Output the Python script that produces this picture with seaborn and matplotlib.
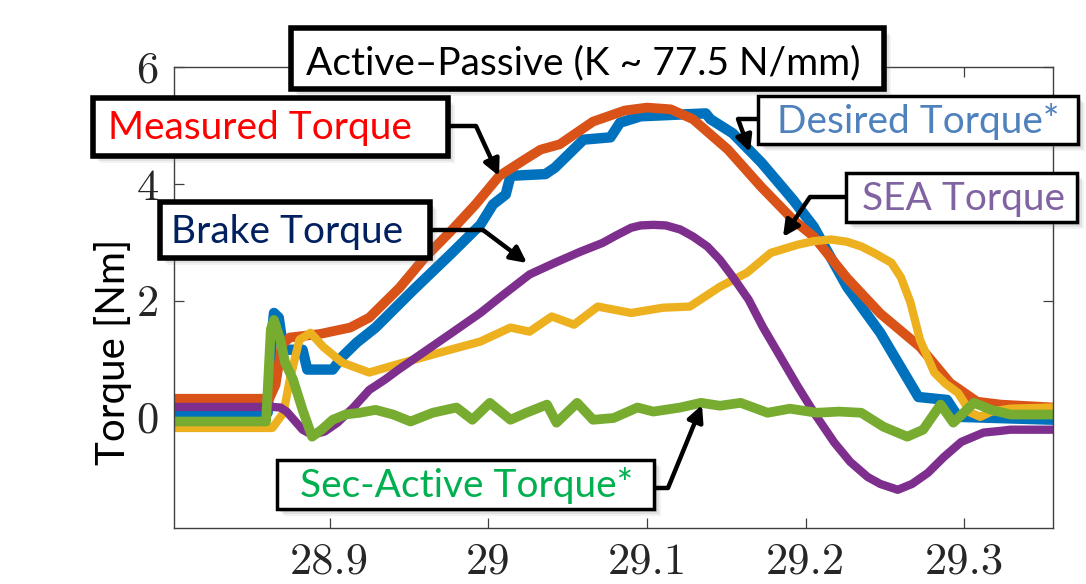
import matplotlib
matplotlib.use("Agg")
import matplotlib.pyplot as plt
import seaborn as sns
from matplotlib.patches import Rectangle, FancyArrowPatch
from matplotlib.lines import Line2D
from matplotlib.transforms import IdentityTransform

# ---------------- data ----------------
t_desired = [28.802, 28.861, 28.864, 28.865, 28.868, 28.871, 28.883, 28.886, 28.902, 28.908,
             28.917, 28.929, 28.953, 28.976, 28.995, 29.003, 29.011, 29.014, 29.036, 29.042,
             29.060, 29.077, 29.083, 29.096, 29.137, 29.140, 29.154, 29.172, 29.192, 29.205,
             29.226, 29.247, 29.271, 29.289, 29.296, 29.356]
desired = [0.08, 0.08, 1.51, 1.79, 1.71, 1.16, 1.16, 0.82, 0.82, 1.04,
           1.28, 1.54, 2.19, 2.79, 3.30, 3.65, 3.82, 4.14, 4.17, 4.28,
           4.76, 4.80, 5.05, 5.16, 5.21, 5.11, 4.87, 4.37, 3.73, 3.27,
           2.24, 1.45, 0.35, 0.30, 0.01, -0.04]

t_measured = [28.802, 28.862, 28.866, 28.870, 28.875, 28.894, 28.913, 28.925, 28.944, 28.960,
              28.976, 28.992, 29.007, 29.023, 29.033, 29.045, 29.066, 29.086, 29.100, 29.115,
              29.129, 29.151, 29.172, 29.192, 29.205, 29.226, 29.247, 29.272, 29.291, 29.308,
              29.323, 29.356]
measured = [0.32, 0.32, 0.56, 1.25, 1.37, 1.43, 1.54, 1.71, 2.22, 2.74,
            3.18, 3.65, 4.14, 4.42, 4.59, 4.68, 5.07, 5.26, 5.31, 5.28,
            5.11, 4.59, 3.95, 3.39, 3.10, 2.39, 1.78, 1.21, 0.59, 0.27,
            0.22, 0.17]

t_sea = [28.802, 28.864, 28.871, 28.875, 28.881, 28.888, 28.896, 28.908, 28.925, 28.944,
         28.960, 28.976, 28.995, 29.014, 29.026, 29.040, 29.054, 29.069, 29.090, 29.110,
         29.127, 29.146, 29.163, 29.178, 29.195, 29.205, 29.216, 29.226, 29.235, 29.243,
         29.254, 29.260, 29.266, 29.272, 29.281, 29.288, 29.296, 29.304, 29.310, 29.317,
         29.329, 29.356]
sea = [-0.18, -0.18, 0.08, 0.65, 1.33, 1.45, 1.21, 0.94, 0.77, 0.92,
       1.04, 1.16, 1.30, 1.54, 1.47, 1.73, 1.59, 1.90, 1.79, 1.88,
       1.90, 2.24, 2.48, 2.82, 2.96, 3.02, 3.05, 3.01, 2.93, 2.82,
       2.65, 2.40, 1.97, 1.33, 0.77, 0.58, 0.42, 0.08, 0.01, 0.10,
       0.15, 0.17]

t_brake = [28.802, 28.864, 28.869, 28.873, 28.883, 28.889, 28.897, 28.905, 28.915, 28.925,
           28.935, 28.944, 28.976, 28.995, 29.007, 29.026, 29.042, 29.058, 29.072, 29.080,
           29.090, 29.096, 29.104, 29.112, 29.121, 29.129, 29.138, 29.146, 29.154, 29.164,
           29.173, 29.184, 29.195, 29.206, 29.218, 29.228, 29.239, 29.247, 29.258, 29.267,
           29.277, 29.287, 29.298, 29.312, 29.323, 29.329, 29.356]
brake = [0.18, 0.18, 0.17, 0.10, -0.21, -0.30, -0.24, -0.09, 0.17, 0.47,
         0.65, 0.83, 1.43, 1.79, 2.05, 2.45, 2.65, 2.84, 2.99, 3.11,
         3.25, 3.29, 3.30, 3.29, 3.22, 3.10, 2.93, 2.70, 2.41, 2.02,
         1.55, 1.04, 0.53, 0.05, -0.43, -0.76, -1.02, -1.14, -1.24, -1.14,
         -0.95, -0.68, -0.42, -0.26, -0.23, -0.21, -0.21]

t_sec = [28.802, 28.860, 28.863, 28.865, 28.869, 28.872, 28.877, 28.883, 28.889, 28.895,
         28.902, 28.910, 28.919, 28.929, 28.940, 28.951, 28.965, 28.980, 28.990, 29.001,
         29.014, 29.024, 29.037, 29.043, 29.056, 29.066, 29.079, 29.094, 29.104, 29.121,
         29.134, 29.146, 29.159, 29.176, 29.190, 29.207, 29.221, 29.235, 29.249, 29.264,
         29.274, 29.285, 29.293, 29.306, 29.317, 29.329, 29.356]
sec_active = [-0.07, -0.07, 1.51, 1.67, 1.33, 0.94, 0.65, 0.13, -0.33, -0.21,
              -0.04, 0.05, 0.08, 0.13, 0.05, -0.07, 0.08, 0.17, -0.04, 0.25,
              -0.04, 0.08, 0.22, -0.09, 0.25, -0.04, -0.01, 0.17, 0.10, 0.17,
              0.25, 0.20, 0.25, 0.08, 0.15, 0.08, 0.10, 0.08, -0.16, -0.33,
              -0.21, 0.22, -0.09, 0.25, 0.13, 0.05, 0.05]

x_ticks = [28.9, 29.0, 29.1, 29.2, 29.3]
x_tick_labels = ["28.9", "29", "29.1", "29.2", "29.3"]
y_ticks = [0, 2, 4, 6]
y_tick_labels = ["0", "2", "4", "6"]

title_text = "Active\u2013Passive (K ~ 77.5 N/mm)"
y_label = "Torque [Nm]"

# ---------------- figure ----------------
sns.set_style("white")
plt.rcParams["font.family"] = ["Lato", "DejaVu Sans"]

W, H = 1086, 584
fig = plt.figure(figsize=(W / 100, H / 100), dpi=100)
ax = fig.add_axes([174 / W, 1 - 528.3 / H, (1053.3 - 174) / W, (528.3 - 67.3) / H])

series = [
    (t_desired, desired, "#0072BD", 7.5),
    (t_measured, measured, "#D95319", 7.0),
    (t_sea, sea, "#EDB120", 6.0),
    (t_brake, brake, "#7E2F8E", 6.0),
    (t_sec, sec_active, "#77AC30", 7.0),
]
for t, v, c, lw in series:
    sns.lineplot(x=t, y=v, ax=ax, color=c, linewidth=lw, sort=False, estimator=None,
                 solid_joinstyle="round", solid_capstyle="round")

ax.set_xlim(28.802, 29.356)
ax.set_ylim(-1.9, 6)
ax.set_xticks(x_ticks)
ax.set_xticklabels(x_tick_labels, fontfamily="cmr10", fontsize=32, color="#262626")
ax.set_yticks(y_ticks)
ax.set_yticklabels(y_tick_labels, fontfamily="cmr10", fontsize=32, color="#262626")
ax.tick_params(direction="in", length=7, width=0.9, color="#404040",
               top=True, right=True, bottom=True, left=True)
ax.tick_params(axis="x", pad=10)
ax.tick_params(axis="y", pad=11)
for s in ax.spines.values():
    s.set_color("#404040")
    s.set_linewidth(1.0)
ax.set_xlabel("")
ax.set_ylabel("")

ID = IdentityTransform()
fig.text(113, H - 352, y_label, rotation=90, ha="center", va="center",
         fontsize=29, color="black", transform=ID)


def box(l, t, r, b, lw):
    for k, a in [(7, 0.10), (5, 0.15), (3, 0.2)]:
        fig.add_artist(Rectangle((l + k, H - b - k), r - l, b - t, transform=ID,
                                 facecolor="#808080", edgecolor="none", alpha=a, zorder=5))
    fig.add_artist(Rectangle((l, H - b), r - l, b - t, transform=ID, facecolor="white",
                             edgecolor="black", linewidth=lw, zorder=6))


def label(x, y, s, color):
    fig.text(x, H - y, s, ha="center", va="baseline", fontsize=28, color=color,
             transform=ID, zorder=7)


def arrow(p0, p1, tip):
    fig.add_artist(Line2D([p0[0], p1[0]], [H - p0[1], H - p1[1]], transform=ID,
                          color="black", linewidth=3.2, zorder=8, solid_capstyle="butt"))
    fig.add_artist(FancyArrowPatch((p1[0], H - p1[1]), (tip[0], H - tip[1]), transform=ID,
                                   arrowstyle="-|>", mutation_scale=24, color="black",
                                   linewidth=3.2, shrinkA=0, shrinkB=0, zorder=8))


# title box
box(291, 28, 884, 89, 4.0)
label(583, 74, title_text, "black")
# measured
box(93, 98, 448, 156, 4.0)
label(260, 139, "Measured Torque", "#FF0000")
arrow((448, 126), (476, 126), (499, 176))
# brake
box(160, 202, 430, 258, 4.0)
label(287, 243, "Brake Torque", "#002060")
arrow((430, 230), (483, 230), (527, 263))
# desired
box(758, 96, 1078, 144, 2.5)
label(918, 133, "Desired Torque*", "#4F81BD")
arrow((758, 119), (738, 119), (750, 152))
# SEA
box(846, 173, 1077, 222, 2.5)
label(963, 210, "SEA Torque", "#8064A2")
arrow((846, 197), (810, 197), (783, 237))
# sec-active
box(277, 460, 654, 509, 2.5)
label(467, 497, "Sec-Active Torque*", "#00B050")
arrow((654, 488), (668, 488), (702, 405))

fig.savefig("out.png", dpi=100)
